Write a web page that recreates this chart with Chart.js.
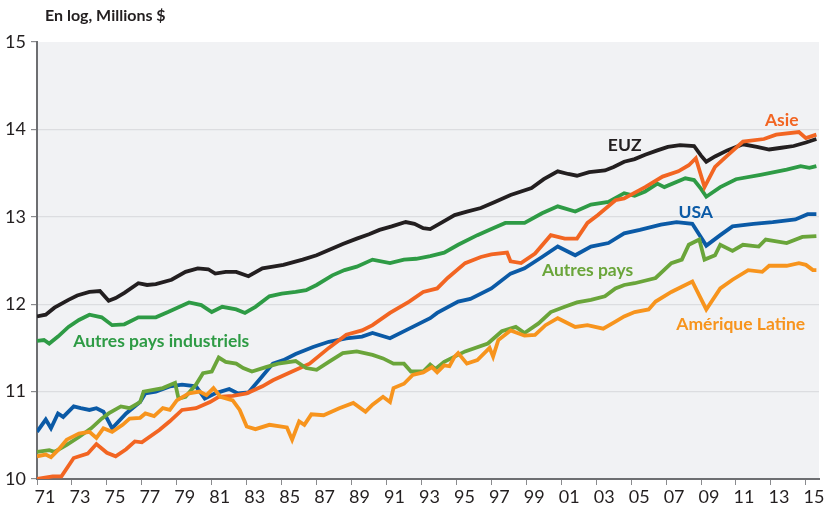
<!DOCTYPE html>
<html>
<head>
<meta charset="utf-8">
<script src="https://cdn.jsdelivr.net/npm/chart.js@4.4.1/dist/chart.umd.min.js"></script>
<style>
  body { margin: 0; background: #fff; }
  #wrap { width: 827px; height: 510px; }
</style>
</head>
<body>
<div id="wrap"><canvas id="chart" width="827" height="510"></canvas></div>
<script>
// [année, log des millions $]
const euz = [[1971.0, 11.86], [1971.5, 11.88], [1972.0, 11.96], [1972.8, 12.05], [1973.3, 12.10], [1974.0, 12.14], [1974.6, 12.15], [1975.1, 12.04], [1975.5, 12.07], [1976.0, 12.13], [1976.8, 12.24], [1977.3, 12.22], [1977.8, 12.23], [1978.7, 12.28], [1979.5, 12.37], [1980.2, 12.41], [1980.8, 12.40], [1981.2, 12.35], [1981.8, 12.37], [1982.4, 12.37], [1983.1, 12.32], [1983.9, 12.41], [1984.5, 12.43], [1985.1, 12.45], [1986.2, 12.51], [1987.0, 12.56], [1987.7, 12.62], [1988.5, 12.69], [1989.3, 12.75], [1990.0, 12.80], [1990.6, 12.85], [1991.3, 12.89], [1992.1, 12.94], [1992.6, 12.92], [1993.1, 12.87], [1993.5, 12.86], [1994.2, 12.94], [1994.9, 13.02], [1995.6, 13.06], [1996.4, 13.10], [1997.2, 13.17], [1998.1, 13.25], [1999.3, 13.33], [2000.0, 13.43], [2000.8, 13.52], [2001.4, 13.49], [2001.9, 13.47], [2002.6, 13.51], [2003.5, 13.53], [2004.0, 13.57], [2004.6, 13.63], [2005.2, 13.66], [2005.8, 13.71], [2006.5, 13.76], [2007.1, 13.80], [2007.8, 13.82], [2008.6, 13.81], [2009.0, 13.70], [2009.3, 13.63], [2009.8, 13.69], [2010.5, 13.76], [2011.4, 13.83], [2012.2, 13.80], [2012.9, 13.77], [2013.6, 13.79], [2014.3, 13.81], [2015.0, 13.85], [2015.6, 13.89]];

const autresIndus = [[1971.0, 11.58], [1971.4, 11.59], [1971.7, 11.55], [1972.2, 11.63], [1972.8, 11.74], [1973.4, 11.82], [1974.0, 11.88], [1974.7, 11.85], [1975.3, 11.76], [1976.0, 11.77], [1976.8, 11.85], [1977.8, 11.85], [1978.5, 11.91], [1979.7, 12.02], [1980.4, 11.99], [1981.0, 11.91], [1981.6, 11.97], [1982.4, 11.94], [1982.9, 11.90], [1983.5, 11.97], [1984.3, 12.09], [1985.0, 12.12], [1985.8, 12.14], [1986.4, 12.16], [1987.0, 12.22], [1987.9, 12.33], [1988.6, 12.39], [1989.3, 12.43], [1990.2, 12.51], [1991.2, 12.47], [1992.0, 12.51], [1992.7, 12.52], [1993.5, 12.55], [1994.3, 12.59], [1995.1, 12.68], [1996.2, 12.79], [1997.0, 12.86], [1997.8, 12.93], [1998.9, 12.93], [1999.9, 13.04], [2000.8, 13.12], [2001.8, 13.06], [2002.7, 13.14], [2003.7, 13.17], [2004.6, 13.27], [2005.2, 13.24], [2005.8, 13.29], [2006.5, 13.38], [2006.9, 13.34], [2008.1, 13.44], [2008.6, 13.42], [2009.0, 13.32], [2009.3, 13.23], [2010.1, 13.34], [2011.0, 13.43], [2012.4, 13.48], [2013.9, 13.54], [2014.7, 13.58], [2015.2, 13.56], [2015.6, 13.58]];

const asie = [[1971.0, 10.00], [1971.9, 10.03], [1972.4, 10.03], [1973.1, 10.24], [1973.9, 10.29], [1974.4, 10.40], [1975.0, 10.30], [1975.5, 10.26], [1976.1, 10.34], [1976.6, 10.43], [1977.0, 10.42], [1978.0, 10.56], [1978.6, 10.66], [1979.3, 10.79], [1980.1, 10.81], [1980.9, 10.88], [1981.4, 10.94], [1982.2, 10.95], [1983.0, 10.98], [1983.9, 11.06], [1984.5, 11.13], [1985.6, 11.23], [1986.6, 11.32], [1987.7, 11.50], [1988.7, 11.65], [1989.6, 11.70], [1990.2, 11.76], [1991.2, 11.90], [1992.3, 12.03], [1993.1, 12.14], [1993.9, 12.18], [1994.5, 12.30], [1995.5, 12.47], [1996.4, 12.54], [1997.0, 12.57], [1997.9, 12.59], [1998.1, 12.49], [1998.7, 12.47], [1999.5, 12.58], [2000.4, 12.79], [2001.2, 12.75], [2001.9, 12.75], [2002.5, 12.93], [2003.1, 13.02], [2004.1, 13.19], [2004.6, 13.21], [2005.8, 13.34], [2006.8, 13.46], [2007.7, 13.52], [2008.3, 13.59], [2008.7, 13.67], [2009.2, 13.34], [2009.8, 13.57], [2010.5, 13.70], [2011.4, 13.86], [2012.6, 13.89], [2013.3, 13.94], [2014.6, 13.97], [2015.0, 13.90], [2015.6, 13.94]];

const usa = [[1971.0, 10.54], [1971.5, 10.68], [1971.8, 10.58], [1972.2, 10.75], [1972.5, 10.71], [1973.1, 10.83], [1973.5, 10.81], [1974.0, 10.79], [1974.4, 10.81], [1974.8, 10.77], [1975.3, 10.58], [1976.1, 10.75], [1976.9, 10.88], [1977.2, 10.98], [1977.8, 11.00], [1978.6, 11.06], [1979.3, 11.08], [1980.1, 11.06], [1980.6, 10.92], [1981.2, 10.98], [1982.0, 11.03], [1982.5, 10.98], [1983.1, 10.99], [1983.7, 11.13], [1984.5, 11.32], [1985.1, 11.36], [1985.8, 11.43], [1986.8, 11.51], [1987.7, 11.57], [1988.7, 11.61], [1989.6, 11.63], [1990.2, 11.67], [1991.2, 11.61], [1992.1, 11.70], [1993.5, 11.84], [1993.9, 11.90], [1995.1, 12.03], [1995.8, 12.06], [1997.0, 12.18], [1998.1, 12.35], [1998.9, 12.41], [1999.9, 12.54], [2000.8, 12.66], [2001.8, 12.56], [2002.7, 12.66], [2003.7, 12.70], [2004.6, 12.81], [2005.5, 12.85], [2006.7, 12.91], [2007.6, 12.94], [2008.5, 12.92], [2009.3, 12.67], [2010.1, 12.79], [2010.8, 12.89], [2012.0, 12.92], [2013.1, 12.94], [2014.4, 12.97], [2015.1, 13.03], [2015.6, 13.03]];

const autresPays = [[1971.0, 10.31], [1971.7, 10.33], [1972.0, 10.31], [1972.7, 10.39], [1973.4, 10.48], [1974.1, 10.58], [1974.7, 10.69], [1975.1, 10.75], [1975.8, 10.83], [1976.3, 10.81], [1976.9, 10.88], [1977.1, 11.00], [1978.2, 11.04], [1978.9, 11.10], [1979.1, 10.92], [1979.5, 10.94], [1980.1, 11.08], [1980.5, 11.21], [1981.0, 11.23], [1981.4, 11.39], [1981.8, 11.34], [1982.4, 11.32], [1982.8, 11.27], [1983.3, 11.23], [1984.1, 11.28], [1984.8, 11.32], [1985.8, 11.35], [1986.4, 11.27], [1987.0, 11.25], [1987.7, 11.34], [1988.5, 11.44], [1989.3, 11.46], [1990.2, 11.42], [1990.8, 11.38], [1991.4, 11.32], [1992.0, 11.32], [1992.4, 11.23], [1993.1, 11.23], [1993.5, 11.31], [1993.8, 11.26], [1994.3, 11.34], [1995.5, 11.46], [1996.8, 11.55], [1997.6, 11.69], [1998.4, 11.74], [1998.9, 11.67], [1999.7, 11.78], [2000.4, 11.91], [2001.2, 11.97], [2001.9, 12.02], [2002.7, 12.05], [2003.5, 12.09], [2004.1, 12.18], [2004.6, 12.22], [2005.2, 12.24], [2006.4, 12.30], [2007.3, 12.47], [2007.9, 12.51], [2008.3, 12.68], [2008.9, 12.74], [2009.2, 12.51], [2009.8, 12.56], [2010.1, 12.68], [2010.8, 12.61], [2011.4, 12.68], [2012.3, 12.66], [2012.7, 12.74], [2013.9, 12.70], [2014.8, 12.77], [2015.6, 12.78]];

const ameriqueLatine = [[1971.0, 10.26], [1971.5, 10.28], [1971.8, 10.25], [1972.2, 10.33], [1972.7, 10.45], [1973.4, 10.52], [1974.0, 10.54], [1974.4, 10.47], [1974.8, 10.58], [1975.3, 10.54], [1975.9, 10.62], [1976.3, 10.69], [1976.9, 10.70], [1977.2, 10.75], [1977.7, 10.72], [1978.2, 10.81], [1978.6, 10.79], [1979.0, 10.90], [1979.7, 10.98], [1980.3, 11.00], [1980.7, 10.96], [1981.1, 11.04], [1981.5, 10.94], [1982.2, 10.90], [1982.6, 10.79], [1983.0, 10.60], [1983.5, 10.57], [1984.3, 10.62], [1985.3, 10.59], [1985.6, 10.45], [1986.0, 10.66], [1986.3, 10.62], [1986.7, 10.74], [1987.4, 10.73], [1988.3, 10.81], [1989.1, 10.87], [1989.8, 10.77], [1990.2, 10.85], [1990.8, 10.94], [1991.2, 10.88], [1991.4, 11.04], [1992.0, 11.09], [1992.5, 11.19], [1993.1, 11.22], [1993.6, 11.28], [1993.9, 11.22], [1994.3, 11.30], [1994.6, 11.29], [1994.9, 11.40], [1995.1, 11.44], [1995.6, 11.32], [1996.2, 11.36], [1996.9, 11.50], [1997.1, 11.40], [1997.4, 11.59], [1998.1, 11.70], [1998.9, 11.64], [1999.5, 11.65], [2000.1, 11.76], [2000.8, 11.84], [2001.8, 11.74], [2002.5, 11.76], [2003.4, 11.72], [2004.1, 11.80], [2004.6, 11.86], [2005.2, 11.91], [2006.0, 11.94], [2006.4, 12.03], [2007.3, 12.14], [2007.9, 12.20], [2008.5, 12.26], [2009.3, 11.94], [2010.1, 12.18], [2010.8, 12.28], [2011.7, 12.39], [2012.5, 12.37], [2012.9, 12.44], [2013.9, 12.44], [2014.6, 12.47], [2015.0, 12.45], [2015.4, 12.39], [2015.6, 12.39]];

const xTickYears = [1971, 1973, 1975, 1977, 1979, 1981, 1983, 1985, 1987, 1989, 1991, 1993, 1995, 1997, 1999, 2001, 2003, 2005, 2007, 2009, 2011, 2013, 2015];
const yTicks = [10, 11, 12, 13, 14, 15];

// étiquettes posées sur le graphique (coordonnées en données)
const seriesLabels = [
  { text: 'EUZ', x: 2004.63, y: 13.82, color: '#231f20' },
  { text: 'Asie', x: 2013.62, y: 14.10, color: '#f26522' },
  { text: 'USA', x: 2008.69, y: 13.05, color: '#0b5aa6' },
  { text: 'Autres pays', x: 2002.51, y: 12.39, color: '#6aa53a' },
  { text: 'Amérique Latine', x: 2011.27, y: 11.77, color: '#f7941d' },
  { text: 'Autres pays industriels', x: 1978.11, y: 11.58, color: '#2e9b45' },
];

const toPoints = (arr) => arr.map(([x, y]) => ({ x, y }));

const line = (label, data, color) => ({
  label: label,
  data: toPoints(data),
  borderColor: color,
  borderWidth: 3.8,
  pointRadius: 0,
  tension: 0,
  fill: false,
});

const plotBg = {
  id: 'plotBg',
  beforeDraw(chart) {
    const { ctx, chartArea: a } = chart;
    ctx.save();
    ctx.fillStyle = '#f1f2f4';
    ctx.fillRect(a.left, a.top, a.right - a.left, a.bottom - a.top);
    ctx.restore();
  },
};

const texts = {
  id: 'texts',
  afterDraw(chart) {
    const ctx = chart.ctx;
    const xs = chart.scales.x, ys = chart.scales.y;
    ctx.save();
    ctx.textBaseline = 'middle';
    ctx.textAlign = 'left';
    ctx.fillStyle = '#231f20';
    ctx.font = 'bold 16px Lato';
    ctx.fillText('En log, Millions $', 45, 16);
    ctx.font = 'bold 17.5px Lato';
    ctx.textAlign = 'center';
    seriesLabels.forEach((l) => {
      ctx.fillStyle = l.color;
      ctx.fillText(l.text, xs.getPixelForValue(l.x), ys.getPixelForValue(l.y));
    });
    ctx.restore();
  },
};

new Chart(document.getElementById('chart'), {
  type: 'line',
  data: {
    datasets: [
      line('Amérique Latine', ameriqueLatine, '#f7941d'),
      line('Autres pays', autresPays, '#6aa53a'),
      line('Asie', asie, '#f26522'),
      line('USA', usa, '#0b5aa6'),
      line('Autres pays industriels', autresIndus, '#2e9b45'),
      line('EUZ', euz, '#231f20'),
    ],
  },
  options: {
    responsive: false,
    animation: false,
    layout: { padding: { top: 42, right: 8, left: 0, bottom: 0 } },
    plugins: {
      legend: { display: false },
      tooltip: { enabled: false },
    },
    scales: {
      x: {
        type: 'linear',
        min: 1971,
        max: 2015.75,
        afterFit: (scale) => { scale.height = 31; },
        afterBuildTicks: (scale) => {
          scale.ticks = xTickYears.map((v) => ({ value: v }));
        },
        border: { color: '#6d6e71', width: 2 },
        grid: { drawOnChartArea: false, drawTicks: true, tickLength: 6, tickColor: '#8a8b8e' },
        ticks: {
          autoSkip: false,
          maxRotation: 0,
          labelOffset: 8,
          padding: 1,
          color: '#231f20',
          font: { family: 'Lato', size: 18 },
          callback: (v) => String(v % 100).padStart(2, '0'),
        },
      },
      y: {
        min: 10,
        max: 15,
        afterFit: (scale) => { scale.width = 37; },
        afterBuildTicks: (scale) => {
          scale.ticks = yTicks.map((v) => ({ value: v }));
        },
        border: { color: '#6d6e71', width: 2 },
        grid: {
          color: (c) => (c.tick && (c.tick.value === 15 || c.tick.value === 10) ? 'rgba(0,0,0,0)' : '#dcdde0'),
          lineWidth: 1.2,
          tickLength: 6,
          tickColor: '#8a8b8e',
        },
        ticks: {
          padding: 5,
          color: '#231f20',
          font: { family: 'Lato', size: 18 },
        },
      },
    },
  },
  plugins: [plotBg, texts],
});
</script>
</body>
</html>
